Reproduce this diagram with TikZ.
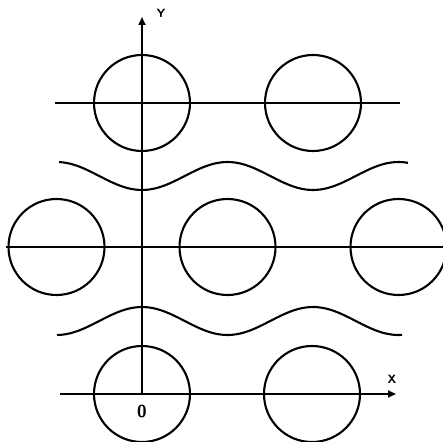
\documentclass[tikz,border=0pt]{standalone}
\usepackage{tikz}
\usetikzlibrary{arrows.meta}

\begin{document}
\begin{tikzpicture}[
x=1pt, y=1pt,
line width=2.1pt,
rod/.style={draw, circle, minimum size=96pt, inner sep=0pt, line width=2.1pt},
lbl/.style={font=\sffamily\bfseries\large, inner sep=1pt},
axis/.style={-{Triangle[length=8pt, width=7pt]}},
]
\useasboundingbox (-142,-47) rectangle (301,394);
% rods, three rows
\foreach \cx/\nm in {0/a, 171/b}
  \node[rod] (top\nm) at (\cx,291) {};
\foreach \cx/\nm in {-85.5/a, 85.5/b, 256.5/c}
  \node[rod] (mid\nm) at (\cx,147) {};
\foreach \cx/\nm in {0/a, 170/b}
  \node[rod] (bot\nm) at (\cx,0) {};
% straight lines through the rows
\draw (-87,291) -- (258,291);
\draw (-136,147) -- (303,147);
% wavy lines between the rows
\draw plot[domain=-83:266, samples=80, smooth] (\x, {218+14*cos(2.10526*(\x-85.5))});
\draw plot[domain=-85:260, samples=80, smooth] (\x, {73+14*cos(2.10526*\x)});
% axes
\coordinate (O) at (0,0);
\coordinate (xend) at (254,0);
\coordinate (yend) at (0,377);
\draw[axis] (-82,0) -- (xend);
\draw[axis] (O) -- (yend);
\node[lbl] (xl) at (250,15) {X};
\node[lbl] (yl) at (19,381) {Y};
\node[lbl, font=\sffamily\bfseries\LARGE] (ol) at (0,-18) {0};
\end{tikzpicture}
\end{document}
